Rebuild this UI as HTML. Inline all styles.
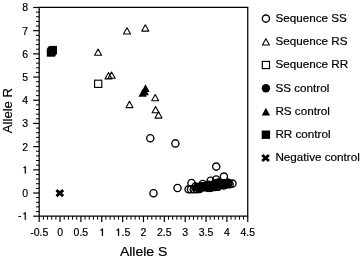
<!DOCTYPE html>
<html><head><meta charset="utf-8"><style>
html,body{margin:0;padding:0;background:#fff;width:360px;height:259px;overflow:hidden}
svg{display:block;filter:grayscale(1)}
text{font-family:"Liberation Sans",sans-serif;fill:#000;stroke:#000;stroke-width:0.2px}
.t{font-size:10.5px}
.a{font-size:12.5px}
.l{font-size:11.4px}
</style></head><body>
<svg width="360" height="259" viewBox="0 0 360 259">
<path d="M39.2 7.49 H247.75 V216.2 H39.2 Z" fill="none" stroke="#000" stroke-width="1.25"/>
<line x1="33.2" x2="39.2" y1="216.20" y2="216.20" stroke="#000" stroke-width="1.2"/>
<line x1="36" x2="39.2" y1="211.56" y2="211.56" stroke="#000" stroke-width="1"/>
<line x1="36" x2="39.2" y1="206.92" y2="206.92" stroke="#000" stroke-width="1"/>
<line x1="36" x2="39.2" y1="202.29" y2="202.29" stroke="#000" stroke-width="1"/>
<line x1="36" x2="39.2" y1="197.65" y2="197.65" stroke="#000" stroke-width="1"/>
<line x1="33.2" x2="39.2" y1="193.01" y2="193.01" stroke="#000" stroke-width="1.2"/>
<line x1="36" x2="39.2" y1="188.37" y2="188.37" stroke="#000" stroke-width="1"/>
<line x1="36" x2="39.2" y1="183.73" y2="183.73" stroke="#000" stroke-width="1"/>
<line x1="36" x2="39.2" y1="179.10" y2="179.10" stroke="#000" stroke-width="1"/>
<line x1="36" x2="39.2" y1="174.46" y2="174.46" stroke="#000" stroke-width="1"/>
<line x1="33.2" x2="39.2" y1="169.82" y2="169.82" stroke="#000" stroke-width="1.2"/>
<line x1="36" x2="39.2" y1="165.18" y2="165.18" stroke="#000" stroke-width="1"/>
<line x1="36" x2="39.2" y1="160.54" y2="160.54" stroke="#000" stroke-width="1"/>
<line x1="36" x2="39.2" y1="155.91" y2="155.91" stroke="#000" stroke-width="1"/>
<line x1="36" x2="39.2" y1="151.27" y2="151.27" stroke="#000" stroke-width="1"/>
<line x1="33.2" x2="39.2" y1="146.63" y2="146.63" stroke="#000" stroke-width="1.2"/>
<line x1="36" x2="39.2" y1="141.99" y2="141.99" stroke="#000" stroke-width="1"/>
<line x1="36" x2="39.2" y1="137.35" y2="137.35" stroke="#000" stroke-width="1"/>
<line x1="36" x2="39.2" y1="132.72" y2="132.72" stroke="#000" stroke-width="1"/>
<line x1="36" x2="39.2" y1="128.08" y2="128.08" stroke="#000" stroke-width="1"/>
<line x1="33.2" x2="39.2" y1="123.44" y2="123.44" stroke="#000" stroke-width="1.2"/>
<line x1="36" x2="39.2" y1="118.80" y2="118.80" stroke="#000" stroke-width="1"/>
<line x1="36" x2="39.2" y1="114.16" y2="114.16" stroke="#000" stroke-width="1"/>
<line x1="36" x2="39.2" y1="109.53" y2="109.53" stroke="#000" stroke-width="1"/>
<line x1="36" x2="39.2" y1="104.89" y2="104.89" stroke="#000" stroke-width="1"/>
<line x1="33.2" x2="39.2" y1="100.25" y2="100.25" stroke="#000" stroke-width="1.2"/>
<line x1="36" x2="39.2" y1="95.61" y2="95.61" stroke="#000" stroke-width="1"/>
<line x1="36" x2="39.2" y1="90.97" y2="90.97" stroke="#000" stroke-width="1"/>
<line x1="36" x2="39.2" y1="86.34" y2="86.34" stroke="#000" stroke-width="1"/>
<line x1="36" x2="39.2" y1="81.70" y2="81.70" stroke="#000" stroke-width="1"/>
<line x1="33.2" x2="39.2" y1="77.06" y2="77.06" stroke="#000" stroke-width="1.2"/>
<line x1="36" x2="39.2" y1="72.42" y2="72.42" stroke="#000" stroke-width="1"/>
<line x1="36" x2="39.2" y1="67.78" y2="67.78" stroke="#000" stroke-width="1"/>
<line x1="36" x2="39.2" y1="63.15" y2="63.15" stroke="#000" stroke-width="1"/>
<line x1="36" x2="39.2" y1="58.51" y2="58.51" stroke="#000" stroke-width="1"/>
<line x1="33.2" x2="39.2" y1="53.87" y2="53.87" stroke="#000" stroke-width="1.2"/>
<line x1="36" x2="39.2" y1="49.23" y2="49.23" stroke="#000" stroke-width="1"/>
<line x1="36" x2="39.2" y1="44.59" y2="44.59" stroke="#000" stroke-width="1"/>
<line x1="36" x2="39.2" y1="39.96" y2="39.96" stroke="#000" stroke-width="1"/>
<line x1="36" x2="39.2" y1="35.32" y2="35.32" stroke="#000" stroke-width="1"/>
<line x1="33.2" x2="39.2" y1="30.68" y2="30.68" stroke="#000" stroke-width="1.2"/>
<line x1="36" x2="39.2" y1="26.04" y2="26.04" stroke="#000" stroke-width="1"/>
<line x1="36" x2="39.2" y1="21.40" y2="21.40" stroke="#000" stroke-width="1"/>
<line x1="36" x2="39.2" y1="16.77" y2="16.77" stroke="#000" stroke-width="1"/>
<line x1="36" x2="39.2" y1="12.13" y2="12.13" stroke="#000" stroke-width="1"/>
<line x1="33.2" x2="39.2" y1="7.49" y2="7.49" stroke="#000" stroke-width="1.2"/>
<line x1="39.20" x2="39.20" y1="216.2" y2="222.1" stroke="#000" stroke-width="1.2"/>
<line x1="43.37" x2="43.37" y1="216.2" y2="219.7" stroke="#000" stroke-width="1"/>
<line x1="47.54" x2="47.54" y1="216.2" y2="219.7" stroke="#000" stroke-width="1"/>
<line x1="51.71" x2="51.71" y1="216.2" y2="219.7" stroke="#000" stroke-width="1"/>
<line x1="55.88" x2="55.88" y1="216.2" y2="219.7" stroke="#000" stroke-width="1"/>
<line x1="60.06" x2="60.06" y1="216.2" y2="222.1" stroke="#000" stroke-width="1.2"/>
<line x1="64.23" x2="64.23" y1="216.2" y2="219.7" stroke="#000" stroke-width="1"/>
<line x1="68.40" x2="68.40" y1="216.2" y2="219.7" stroke="#000" stroke-width="1"/>
<line x1="72.57" x2="72.57" y1="216.2" y2="219.7" stroke="#000" stroke-width="1"/>
<line x1="76.74" x2="76.74" y1="216.2" y2="219.7" stroke="#000" stroke-width="1"/>
<line x1="80.91" x2="80.91" y1="216.2" y2="222.1" stroke="#000" stroke-width="1.2"/>
<line x1="85.08" x2="85.08" y1="216.2" y2="219.7" stroke="#000" stroke-width="1"/>
<line x1="89.25" x2="89.25" y1="216.2" y2="219.7" stroke="#000" stroke-width="1"/>
<line x1="93.42" x2="93.42" y1="216.2" y2="219.7" stroke="#000" stroke-width="1"/>
<line x1="97.59" x2="97.59" y1="216.2" y2="219.7" stroke="#000" stroke-width="1"/>
<line x1="101.77" x2="101.77" y1="216.2" y2="222.1" stroke="#000" stroke-width="1.2"/>
<line x1="105.94" x2="105.94" y1="216.2" y2="219.7" stroke="#000" stroke-width="1"/>
<line x1="110.11" x2="110.11" y1="216.2" y2="219.7" stroke="#000" stroke-width="1"/>
<line x1="114.28" x2="114.28" y1="216.2" y2="219.7" stroke="#000" stroke-width="1"/>
<line x1="118.45" x2="118.45" y1="216.2" y2="219.7" stroke="#000" stroke-width="1"/>
<line x1="122.62" x2="122.62" y1="216.2" y2="222.1" stroke="#000" stroke-width="1.2"/>
<line x1="126.79" x2="126.79" y1="216.2" y2="219.7" stroke="#000" stroke-width="1"/>
<line x1="130.96" x2="130.96" y1="216.2" y2="219.7" stroke="#000" stroke-width="1"/>
<line x1="135.13" x2="135.13" y1="216.2" y2="219.7" stroke="#000" stroke-width="1"/>
<line x1="139.30" x2="139.30" y1="216.2" y2="219.7" stroke="#000" stroke-width="1"/>
<line x1="143.48" x2="143.48" y1="216.2" y2="222.1" stroke="#000" stroke-width="1.2"/>
<line x1="147.65" x2="147.65" y1="216.2" y2="219.7" stroke="#000" stroke-width="1"/>
<line x1="151.82" x2="151.82" y1="216.2" y2="219.7" stroke="#000" stroke-width="1"/>
<line x1="155.99" x2="155.99" y1="216.2" y2="219.7" stroke="#000" stroke-width="1"/>
<line x1="160.16" x2="160.16" y1="216.2" y2="219.7" stroke="#000" stroke-width="1"/>
<line x1="164.33" x2="164.33" y1="216.2" y2="222.1" stroke="#000" stroke-width="1.2"/>
<line x1="168.50" x2="168.50" y1="216.2" y2="219.7" stroke="#000" stroke-width="1"/>
<line x1="172.67" x2="172.67" y1="216.2" y2="219.7" stroke="#000" stroke-width="1"/>
<line x1="176.84" x2="176.84" y1="216.2" y2="219.7" stroke="#000" stroke-width="1"/>
<line x1="181.01" x2="181.01" y1="216.2" y2="219.7" stroke="#000" stroke-width="1"/>
<line x1="185.19" x2="185.19" y1="216.2" y2="222.1" stroke="#000" stroke-width="1.2"/>
<line x1="189.36" x2="189.36" y1="216.2" y2="219.7" stroke="#000" stroke-width="1"/>
<line x1="193.53" x2="193.53" y1="216.2" y2="219.7" stroke="#000" stroke-width="1"/>
<line x1="197.70" x2="197.70" y1="216.2" y2="219.7" stroke="#000" stroke-width="1"/>
<line x1="201.87" x2="201.87" y1="216.2" y2="219.7" stroke="#000" stroke-width="1"/>
<line x1="206.04" x2="206.04" y1="216.2" y2="222.1" stroke="#000" stroke-width="1.2"/>
<line x1="210.21" x2="210.21" y1="216.2" y2="219.7" stroke="#000" stroke-width="1"/>
<line x1="214.38" x2="214.38" y1="216.2" y2="219.7" stroke="#000" stroke-width="1"/>
<line x1="218.55" x2="218.55" y1="216.2" y2="219.7" stroke="#000" stroke-width="1"/>
<line x1="222.72" x2="222.72" y1="216.2" y2="219.7" stroke="#000" stroke-width="1"/>
<line x1="226.89" x2="226.89" y1="216.2" y2="222.1" stroke="#000" stroke-width="1.2"/>
<line x1="231.07" x2="231.07" y1="216.2" y2="219.7" stroke="#000" stroke-width="1"/>
<line x1="235.24" x2="235.24" y1="216.2" y2="219.7" stroke="#000" stroke-width="1"/>
<line x1="239.41" x2="239.41" y1="216.2" y2="219.7" stroke="#000" stroke-width="1"/>
<line x1="243.58" x2="243.58" y1="216.2" y2="219.7" stroke="#000" stroke-width="1"/>
<line x1="247.75" x2="247.75" y1="216.2" y2="222.1" stroke="#000" stroke-width="1.2"/>
<path d="M24.74 212.26 L25.84 212.26 L25.84 219.70 L24.74 219.70 L24.74 214.13 L23.22 214.13 L23.22 213.56 Q24.37 213.40 24.74 212.26 Z" fill="#000" stroke="#000" stroke-width="0.15"/>
<text transform="translate(21.56,219) scale(1.0,1)" text-anchor="end" class="t">-</text>
<text transform="translate(28.2,196.91) scale(1.0,1)" text-anchor="end" class="t">0</text>
<path d="M24.74 166.16 L25.84 166.16 L25.84 173.60 L24.74 173.60 L24.74 168.03 L23.22 168.03 L23.22 167.46 Q24.37 167.30 24.74 166.16 Z" fill="#000" stroke="#000" stroke-width="0.15"/>
<text transform="translate(28.2,150.53) scale(1.0,1)" text-anchor="end" class="t">2</text>
<text transform="translate(28.2,127.34) scale(1.0,1)" text-anchor="end" class="t">3</text>
<text transform="translate(28.2,104.15) scale(1.0,1)" text-anchor="end" class="t">4</text>
<text transform="translate(28.2,80.96) scale(1.0,1)" text-anchor="end" class="t">5</text>
<text transform="translate(28.2,57.77) scale(1.0,1)" text-anchor="end" class="t">6</text>
<text transform="translate(28.2,34.58) scale(1.0,1)" text-anchor="end" class="t">7</text>
<text transform="translate(28.2,11.39) scale(1.0,1)" text-anchor="end" class="t">8</text>
<text transform="translate(39.20,236.4) scale(1.0,1)" text-anchor="middle" class="t">-0.5</text>
<text transform="translate(60.06,236.4) scale(1.0,1)" text-anchor="middle" class="t">0</text>
<text transform="translate(80.91,236.4) scale(1.0,1)" text-anchor="middle" class="t">0.5</text>
<path d="M101.87 228.56 L102.98 228.56 L102.98 236.00 L101.87 236.00 L101.87 230.44 L100.35 230.44 L100.35 229.86 Q101.51 229.70 101.87 228.56 Z" fill="#000" stroke="#000" stroke-width="0.15"/>
<path d="M118.00 228.56 L119.10 228.56 L119.10 236.00 L118.00 236.00 L118.00 230.44 L116.48 230.44 L116.48 229.86 Q117.63 229.70 118.00 228.56 Z" fill="#000" stroke="#000" stroke-width="0.15"/>
<text transform="translate(121.46,236.4) scale(1.0,1)" class="t">.5</text>
<text transform="translate(143.48,236.4) scale(1.0,1)" text-anchor="middle" class="t">2</text>
<text transform="translate(164.33,236.4) scale(1.0,1)" text-anchor="middle" class="t">2.5</text>
<text transform="translate(185.19,236.4) scale(1.0,1)" text-anchor="middle" class="t">3</text>
<text transform="translate(206.04,236.4) scale(1.0,1)" text-anchor="middle" class="t">3.5</text>
<text transform="translate(226.89,236.4) scale(1.0,1)" text-anchor="middle" class="t">4</text>
<text transform="translate(247.75,236.4) scale(1.0,1)" text-anchor="middle" class="t">4.5</text>
<text transform="translate(143.6,255.8) scale(1.12,1)" text-anchor="middle" class="a">Allele S</text>
<text transform="translate(11.6,110.6) rotate(-90) scale(1.01,1)" text-anchor="middle" class="a" style="font-size:13px">Allele R</text>
<rect x="48.599999999999994" y="45.9" width="8.4" height="8.4" fill="#000"/>
<rect x="46.8" y="48.3" width="8.4" height="8.4" fill="#000"/>
<rect x="47.699999999999996" y="47.099999999999994" width="8.4" height="8.4" fill="#000"/>
<path d="M98.1 49.00 L101.60 55.30 L94.60 55.30 Z" fill="none" stroke="#000" stroke-width="1.1" stroke-linejoin="round"/>
<path d="M108.5 72.60 L112.00 78.90 L105.00 78.90 Z" fill="none" stroke="#000" stroke-width="1.1" stroke-linejoin="round"/>
<path d="M111.6 72.00 L115.10 78.30 L108.10 78.30 Z" fill="none" stroke="#000" stroke-width="1.1" stroke-linejoin="round"/>
<path d="M127.0 27.70 L130.50 34.00 L123.50 34.00 Z" fill="none" stroke="#000" stroke-width="1.1" stroke-linejoin="round"/>
<path d="M145.3 24.80 L148.80 31.10 L141.80 31.10 Z" fill="none" stroke="#000" stroke-width="1.1" stroke-linejoin="round"/>
<path d="M129.5 101.30 L133.00 107.60 L126.00 107.60 Z" fill="none" stroke="#000" stroke-width="1.1" stroke-linejoin="round"/>
<path d="M155.2 94.50 L158.70 100.80 L151.70 100.80 Z" fill="none" stroke="#000" stroke-width="1.1" stroke-linejoin="round"/>
<path d="M155.6 106.40 L159.10 112.70 L152.10 112.70 Z" fill="none" stroke="#000" stroke-width="1.1" stroke-linejoin="round"/>
<path d="M158.5 111.80 L162.00 118.10 L155.00 118.10 Z" fill="none" stroke="#000" stroke-width="1.1" stroke-linejoin="round"/>
<path d="M142.6 88.90 L146.75 96.70 L138.45 96.70 Z" fill="#000"/>
<path d="M144.7 87.50 L148.85 95.30 L140.55 95.30 Z" fill="#000"/>
<path d="M145.5 84.30 L149.65 92.10 L141.35 92.10 Z" fill="#000"/>
<rect x="94.60" y="80.20" width="7.2" height="7.2" fill="none" stroke="#000" stroke-width="1.15"/>
<path d="M56.45 190.10 L63.15 196.10 M63.15 190.10 L56.45 196.10" stroke="#000" stroke-width="2.9" stroke-linecap="butt"/>
<circle cx="150.3" cy="138.2" r="3.6" fill="none" stroke="#000" stroke-width="1.35"/>
<circle cx="175.4" cy="143.4" r="3.6" fill="none" stroke="#000" stroke-width="1.35"/>
<circle cx="153.5" cy="193.2" r="3.6" fill="none" stroke="#000" stroke-width="1.35"/>
<circle cx="177.5" cy="188.0" r="3.6" fill="none" stroke="#000" stroke-width="1.35"/>
<circle cx="216.2" cy="166.6" r="3.6" fill="none" stroke="#000" stroke-width="1.35"/>
<circle cx="188.6" cy="189.3" r="3.6" fill="none" stroke="#000" stroke-width="1.35"/>
<circle cx="191.0" cy="189.3" r="3.6" fill="none" stroke="#000" stroke-width="1.35"/>
<circle cx="191.5" cy="183.0" r="3.6" fill="none" stroke="#000" stroke-width="1.35"/>
<circle cx="193.8" cy="189.3" r="3.6" fill="none" stroke="#000" stroke-width="1.35"/>
<circle cx="196.8" cy="189.2" r="3.6" fill="none" stroke="#000" stroke-width="1.35"/>
<circle cx="199.6" cy="189.0" r="3.6" fill="none" stroke="#000" stroke-width="1.35"/>
<circle cx="195.5" cy="186.6" r="3.6" fill="none" stroke="#000" stroke-width="1.35"/>
<circle cx="202.7" cy="184.0" r="3.6" fill="none" stroke="#000" stroke-width="1.35"/>
<circle cx="210.6" cy="180.7" r="3.6" fill="none" stroke="#000" stroke-width="1.35"/>
<circle cx="216.1" cy="179.5" r="3.6" fill="none" stroke="#000" stroke-width="1.35"/>
<circle cx="223.9" cy="176.6" r="3.6" fill="none" stroke="#000" stroke-width="1.35"/>
<circle cx="232.5" cy="183.6" r="3.6" fill="none" stroke="#000" stroke-width="1.35"/>
<circle cx="229.6" cy="184.2" r="3.6" fill="none" stroke="#000" stroke-width="1.35"/>
<circle cx="208.04" cy="185.3" r="3.6" fill="none" stroke="#000" stroke-width="1.35"/>
<circle cx="218.18" cy="182.73" r="3.6" fill="none" stroke="#000" stroke-width="1.35"/>
<circle cx="214.61" cy="184.77" r="3.6" fill="none" stroke="#000" stroke-width="1.35"/>
<circle cx="199.8" cy="187.46" r="3.6" fill="none" stroke="#000" stroke-width="1.35"/>
<circle cx="199.16" cy="187.5" r="3.6" fill="none" stroke="#000" stroke-width="1.35"/>
<circle cx="200.17" cy="186.79" r="3.6" fill="none" stroke="#000" stroke-width="1.35"/>
<circle cx="211.16" cy="187.38" r="3.6" fill="none" stroke="#000" stroke-width="1.35"/>
<circle cx="201.84" cy="186.68" r="3.6" fill="none" stroke="#000" stroke-width="1.35"/>
<circle cx="217.45" cy="186.66" r="3.6" fill="none" stroke="#000" stroke-width="1.35"/>
<circle cx="215.89" cy="184.63" r="3.6" fill="none" stroke="#000" stroke-width="1.35"/>
<circle cx="228.26" cy="182.82" r="3.6" fill="none" stroke="#000" stroke-width="1.35"/>
<circle cx="224.61" cy="183.24" r="3.6" fill="none" stroke="#000" stroke-width="1.35"/>
<circle cx="202.47" cy="186.35" r="3.6" fill="none" stroke="#000" stroke-width="1.35"/>
<circle cx="207.56" cy="187.63" r="3.6" fill="none" stroke="#000" stroke-width="1.35"/>
<circle cx="203.6" cy="187.19" r="3.6" fill="none" stroke="#000" stroke-width="1.35"/>
<circle cx="217.81" cy="184.11" r="3.6" fill="none" stroke="#000" stroke-width="1.35"/>
<circle cx="214.98" cy="183.42" r="3.6" fill="none" stroke="#000" stroke-width="1.35"/>
<circle cx="199.85" cy="187.02" r="3.6" fill="none" stroke="#000" stroke-width="1.35"/>
<circle cx="219.09" cy="184.07" r="3.6" fill="none" stroke="#000" stroke-width="1.35"/>
<circle cx="207.74" cy="186.84" r="3.6" fill="none" stroke="#000" stroke-width="1.35"/>
<circle cx="212.05" cy="185.05" r="3.6" fill="none" stroke="#000" stroke-width="1.35"/>
<circle cx="222.63" cy="184.71" r="3.6" fill="none" stroke="#000" stroke-width="1.35"/>
<circle cx="205.57" cy="187.0" r="3.6" fill="none" stroke="#000" stroke-width="1.35"/>
<circle cx="214.28" cy="186.97" r="3.6" fill="none" stroke="#000" stroke-width="1.35"/>
<circle cx="220.61" cy="183.26" r="3.6" fill="none" stroke="#000" stroke-width="1.35"/>
<circle cx="228.39" cy="182.95" r="3.6" fill="none" stroke="#000" stroke-width="1.35"/>
<circle cx="210.96" cy="187.14" r="3.6" fill="none" stroke="#000" stroke-width="1.35"/>
<circle cx="202.71" cy="187.08" r="3.6" fill="none" stroke="#000" stroke-width="1.35"/>
<circle cx="199.22" cy="187.81" r="3.6" fill="none" stroke="#000" stroke-width="1.35"/>
<circle cx="221.7" cy="184.35" r="3.6" fill="none" stroke="#000" stroke-width="1.35"/>
<circle cx="225.14" cy="183.31" r="3.6" fill="none" stroke="#000" stroke-width="1.35"/>
<circle cx="219.55" cy="184.71" r="3.6" fill="none" stroke="#000" stroke-width="1.35"/>
<circle cx="215.98" cy="184.86" r="3.6" fill="none" stroke="#000" stroke-width="1.35"/>
<circle cx="224.04" cy="185.27" r="3.6" fill="none" stroke="#000" stroke-width="1.35"/>
<circle cx="212.7" cy="186.41" r="3.6" fill="none" stroke="#000" stroke-width="1.35"/>
<circle cx="199.88" cy="187.71" r="3.6" fill="none" stroke="#000" stroke-width="1.35"/>
<circle cx="218.06" cy="186.74" r="3.6" fill="none" stroke="#000" stroke-width="1.35"/>
<circle cx="223.48" cy="183.23" r="3.6" fill="none" stroke="#000" stroke-width="1.35"/>
<circle cx="209.96" cy="186.98" r="3.6" fill="none" stroke="#000" stroke-width="1.35"/>
<circle cx="198.7" cy="187.64" r="3.6" fill="none" stroke="#000" stroke-width="1.35"/>
<circle cx="203.21" cy="186.19" r="3.6" fill="none" stroke="#000" stroke-width="1.35"/>
<circle cx="199.83" cy="187.81" r="3.6" fill="none" stroke="#000" stroke-width="1.35"/>
<circle cx="202.01" cy="186.69" r="3.6" fill="none" stroke="#000" stroke-width="1.35"/>
<circle cx="210.12" cy="187.76" r="3.6" fill="none" stroke="#000" stroke-width="1.35"/>
<circle cx="200.5" cy="187.27" r="3.6" fill="none" stroke="#000" stroke-width="1.35"/>
<circle cx="215.03" cy="186.85" r="3.6" fill="none" stroke="#000" stroke-width="1.35"/>
<circle cx="223.4" cy="185.14" r="3.6" fill="none" stroke="#000" stroke-width="1.35"/>
<circle cx="206.63" cy="186.41" r="3.6" fill="none" stroke="#000" stroke-width="1.35"/>
<circle cx="209.12" cy="187.85" r="3.6" fill="none" stroke="#000" stroke-width="1.35"/>
<circle cx="227.69" cy="182.96" r="3.6" fill="none" stroke="#000" stroke-width="1.35"/>
<circle cx="203.46" cy="186.4" r="3.6" fill="none" stroke="#000" stroke-width="1.35"/>
<circle cx="205.23" cy="186.78" r="3.6" fill="none" stroke="#000" stroke-width="1.35"/>
<circle cx="216.26" cy="183.98" r="3.6" fill="none" stroke="#000" stroke-width="1.35"/>
<circle cx="198.13" cy="187.72" r="3.6" fill="none" stroke="#000" stroke-width="1.35"/>
<circle cx="209.45" cy="186.62" r="3.6" fill="none" stroke="#000" stroke-width="1.35"/>
<circle cx="227.55" cy="184.01" r="3.6" fill="none" stroke="#000" stroke-width="1.35"/>
<circle cx="213.98" cy="185.95" r="3.6" fill="none" stroke="#000" stroke-width="1.35"/>
<circle cx="218.96" cy="182.47" r="3.6" fill="none" stroke="#000" stroke-width="1.35"/>
<circle cx="225.89" cy="184.45" r="3.6" fill="none" stroke="#000" stroke-width="1.35"/>
<circle cx="225.11" cy="184.63" r="3.6" fill="none" stroke="#000" stroke-width="1.35"/>
<circle cx="210.16" cy="185.86" r="3.6" fill="none" stroke="#000" stroke-width="1.35"/>
<circle cx="201.21" cy="187.5" r="3.6" fill="none" stroke="#000" stroke-width="1.35"/>
<circle cx="199.93" cy="186.81" r="3.6" fill="none" stroke="#000" stroke-width="1.35"/>
<circle cx="204.47" cy="186.04" r="3.6" fill="none" stroke="#000" stroke-width="1.35"/>
<circle cx="208.54" cy="184.84" r="3.6" fill="none" stroke="#000" stroke-width="1.35"/>
<circle cx="198.01" cy="187.39" r="3.6" fill="none" stroke="#000" stroke-width="1.35"/>
<circle cx="201.15" cy="187.04" r="3.6" fill="none" stroke="#000" stroke-width="1.35"/>
<circle cx="198.79" cy="188.17" r="3.6" fill="none" stroke="#000" stroke-width="1.35"/>
<circle cx="217.04" cy="183.32" r="3.6" fill="none" stroke="#000" stroke-width="1.35"/>
<circle cx="205.82" cy="186.32" r="3.6" fill="none" stroke="#000" stroke-width="1.35"/>
<circle cx="265.9" cy="18.6" r="3.6" fill="none" stroke="#000" stroke-width="1.35"/>
<path d="M265.9 38.70 L269.40 45.00 L262.40 45.00 Z" fill="none" stroke="#000" stroke-width="1.1" stroke-linejoin="round"/>
<rect x="262.30" y="61.40" width="7.2" height="7.2" fill="none" stroke="#000" stroke-width="1.15"/>
<circle cx="265.9" cy="88.2" r="4.2" fill="#000"/>
<path d="M265.9 107.70 L270.05 115.50 L261.75 115.50 Z" fill="#000"/>
<rect x="261.7" y="130.5" width="8.4" height="8.4" fill="#000"/>
<path d="M262.25 155.00 L268.95 161.00 M268.95 155.00 L262.25 161.00" stroke="#000" stroke-width="2.9" stroke-linecap="butt"/>
<text transform="translate(275.4,22.00) scale(1.025,1)" class="l">Sequence SS</text>
<text transform="translate(275.4,45.30) scale(1.025,1)" class="l">Sequence RS</text>
<text transform="translate(275.4,68.40) scale(1.025,1)" class="l">Sequence RR</text>
<text transform="translate(275.4,91.60) scale(1.025,1)" class="l">SS control</text>
<text transform="translate(275.4,115.00) scale(1.025,1)" class="l">RS control</text>
<text transform="translate(275.4,138.10) scale(1.025,1)" class="l">RR control</text>
<text transform="translate(275.4,161.40) scale(1.025,1)" class="l">Negative control</text>
</svg>
</body></html>
